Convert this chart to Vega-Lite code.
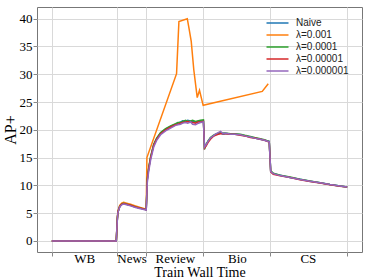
{
  "$schema": "https://vega.github.io/schema/vega-lite/v6.json",
  "autosize": {"type": "none"},
  "width": 325,
  "height": 245,
  "padding": {"left": 37, "top": 7, "right": 12, "bottom": 28},
  "background": "white",
  "config": {
    "view": {"stroke": "#777777", "strokeWidth": 1},
    "axis": {"domain": false, "gridColor": "#d9d9d9", "gridWidth": 1, "tickColor": "#888888", "tickSize": 4, "labelFont": "Liberation Serif", "labelFontSize": 13, "labelColor": "#000000", "titleFont": "Liberation Serif", "titleColor": "#000000", "titleFontWeight": "normal"}
  },
  "data": {"values": [
    {"t": 0, "a": 0, "b": 0, "c": 0, "d": 0, "e": 0},
    {"t": 65.5, "a": 0, "b": 0, "c": 0, "d": 0, "e": 0},
    {"t": 66.6, "a": 4.0, "b": 4.2, "c": 4.0, "d": 4.0, "e": 3.9},
    {"t": 67.2, "a": 5.2, "b": 5.4, "c": 5.2, "d": 5.2, "e": 5.1},
    {"t": 69, "a": 6.2, "b": 6.4, "c": 6.2, "d": 6.2, "e": 6.1},
    {"t": 71, "a": 6.6, "b": 6.8, "c": 6.6, "d": 6.6, "e": 6.5},
    {"t": 73, "a": 6.7, "b": 6.95, "c": 6.75, "d": 6.7, "e": 6.65},
    {"t": 76, "a": 6.6, "b": 6.8, "c": 6.6, "d": 6.6, "e": 6.5},
    {"t": 80, "a": 6.4, "b": 6.6, "c": 6.4, "d": 6.4, "e": 6.3},
    {"t": 85, "a": 6.1, "b": 6.3, "c": 6.1, "d": 6.1, "e": 6.0},
    {"t": 90, "a": 5.9, "b": 6.0, "c": 5.9, "d": 5.9, "e": 5.8},
    {"t": 95.9, "a": 5.6, "b": 5.7, "c": 5.6, "d": 5.6, "e": 5.55},
    {"t": 96.6, "b": 15.0},
    {"t": 97, "a": 11.0, "c": 11.2, "d": 11.0, "e": 10.5},
    {"t": 98.4, "a": 13.0, "c": 13.2, "d": 13.0, "e": 12.5},
    {"t": 100.4, "a": 15.0, "c": 15.2, "d": 15.0, "e": 14.6},
    {"t": 103.5, "a": 17.3, "c": 17.4, "d": 17.2, "e": 16.9},
    {"t": 106.5, "a": 18.4, "c": 18.5, "d": 18.3, "e": 18.1},
    {"t": 110.5, "a": 19.4, "c": 19.5, "d": 19.3, "e": 19.1},
    {"t": 115.6, "a": 20.1, "c": 20.2, "d": 20.0, "e": 19.8},
    {"t": 120.7, "a": 20.6, "c": 20.7, "d": 20.5, "e": 20.3},
    {"t": 125.7, "a": 21.0, "c": 21.1, "d": 20.9, "e": 20.8},
    {"t": 126.7, "b": 30.1},
    {"t": 128, "a": 21.2, "c": 21.3, "d": 21.0, "e": 20.9},
    {"t": 129.1, "b": 39.5},
    {"t": 130.8, "a": 21.4, "c": 21.3, "d": 21.2, "e": 21.0},
    {"t": 133, "a": 21.6, "c": 21.5, "d": 21.3, "e": 21.2},
    {"t": 135.9, "a": 21.5, "c": 21.7, "d": 21.4, "e": 21.3},
    {"t": 137.6, "b": 40.0},
    {"t": 138, "a": 21.7, "c": 21.5, "d": 21.5, "e": 21.2},
    {"t": 139.4, "b": 38.2},
    {"t": 140.9, "a": 21.6, "c": 21.6, "d": 21.4, "e": 21.4},
    {"t": 141.6, "b": 35.9},
    {"t": 143, "a": 21.5, "c": 21.7, "d": 21.3, "e": 21.0},
    {"t": 144.2, "b": 30.8},
    {"t": 146, "a": 21.4, "c": 21.5, "d": 21.2, "e": 20.9},
    {"t": 147.7, "b": 25.8},
    {"t": 148, "a": 21.5, "c": 21.6, "d": 21.4, "e": 21.1},
    {"t": 150, "b": 27.1},
    {"t": 151, "a": 21.6, "c": 21.7, "d": 21.4, "e": 21.3},
    {"t": 153.7, "b": 24.4},
    {"t": 154, "a": 21.6, "c": 21.8, "d": 21.5, "e": 21.4},
    {"t": 155.1, "a": 16.8, "c": 16.5, "d": 16.7, "e": 16.9},
    {"t": 157.1, "a": 17.4, "c": 17.5, "d": 17.2, "e": 17.4},
    {"t": 159, "a": 18.0, "c": 18.1, "d": 17.8, "e": 18.0},
    {"t": 161.1, "a": 18.5, "c": 18.6, "d": 18.3, "e": 18.5},
    {"t": 164, "a": 18.9, "c": 19.0, "d": 18.8, "e": 18.9},
    {"t": 166.2, "a": 19.1, "c": 19.2, "d": 19.0, "e": 19.2},
    {"t": 169, "a": 19.3, "c": 19.4, "d": 19.2, "e": 19.5},
    {"t": 171.3, "a": 19.4, "c": 19.5, "d": 19.3, "e": 19.7},
    {"t": 174, "a": 19.2, "c": 19.4, "d": 19.3, "e": 19.3},
    {"t": 176.3, "a": 19.3, "c": 19.4, "d": 19.3, "e": 19.4},
    {"t": 181.4, "a": 19.3, "c": 19.3, "d": 19.2, "e": 19.2},
    {"t": 186, "a": 19.2, "c": 19.3, "d": 19.2, "e": 19.2},
    {"t": 191.5, "a": 19.1, "c": 19.2, "d": 19.0, "e": 19.1},
    {"t": 196, "a": 18.9, "c": 19.0, "d": 18.9, "e": 18.9},
    {"t": 201.6, "a": 18.7, "c": 18.8, "d": 18.6, "e": 18.7},
    {"t": 206, "a": 18.5, "c": 18.6, "d": 18.5, "e": 18.5},
    {"t": 211.7, "a": 18.3, "c": 18.4, "d": 18.3, "e": 18.3},
    {"t": 213.7, "b": 26.9},
    {"t": 216, "a": 18.1, "c": 18.2, "d": 18.1, "e": 18.1},
    {"t": 219.8, "b": 28.3},
    {"t": 220.8, "a": 17.9, "c": 17.9, "d": 17.8, "e": 17.85},
    {"t": 222.3, "a": 12.5, "c": 12.6, "d": 12.4, "e": 12.5},
    {"t": 224.9, "a": 12.1, "c": 12.2, "d": 12.0, "e": 12.1},
    {"t": 231.9, "a": 11.8, "c": 11.8, "d": 11.7, "e": 11.75},
    {"t": 242, "a": 11.4, "c": 11.5, "d": 11.4, "e": 11.4},
    {"t": 252.1, "a": 11.1, "c": 11.1, "d": 11.0, "e": 11.05},
    {"t": 262.2, "a": 10.75, "c": 10.8, "d": 10.7, "e": 10.75},
    {"t": 272.4, "a": 10.45, "c": 10.45, "d": 10.4, "e": 10.45},
    {"t": 282.5, "a": 10.15, "c": 10.15, "d": 10.1, "e": 10.15},
    {"t": 292.6, "a": 9.9, "c": 9.9, "d": 9.85, "e": 9.9},
    {"t": 300, "a": 9.7, "c": 9.7, "d": 9.7, "e": 9.7}
  ]},
  "transform": [
    {"fold": ["a", "b", "c", "d", "e"], "as": ["k", "y"]},
    {"filter": "isValid(datum.y)"},
    {"lookup": "k", "from": {"data": {"values": [
      {"k": "a", "name": "Naive"},
      {"k": "b", "name": "λ=0.001"},
      {"k": "c", "name": "λ=0.0001"},
      {"k": "d", "name": "λ=0.00001"},
      {"k": "e", "name": "λ=0.000001"}
    ]}, "key": "k", "fields": ["name"]}}
  ],
  "mark": {"type": "line", "strokeWidth": 1.5},
  "encoding": {
    "x": {
      "field": "t", "type": "quantitative",
      "scale": {"domain": [-15, 315], "nice": false, "zero": false},
      "axis": {
        "values": [0, 33, 66, 81, 96, 125, 154, 188, 222, 260, 300],
        "labelExpr": "datum.value == 33 ? 'WB' : datum.value == 81 ? 'News' : datum.value == 125 ? 'Review' : datum.value == 188 ? 'Bio' : datum.value == 260 ? 'CS' : ''",
        "gridOpacity": {"condition": {"test": "indexof([0, 66, 96, 154, 222, 300], datum.value) >= 0", "value": 1}, "value": 0},
        "tickOpacity": {"condition": {"test": "indexof([0, 66, 96, 154, 222, 300], datum.value) >= 0", "value": 1}, "value": 0},
        "labelPadding": -3.5,
        "labelFlush": false,
        "labelOverlap": false,
        "title": "Train Wall Time",
        "titleFontSize": 14,
        "titlePadding": 0
      }
    },
    "y": {
      "field": "y", "type": "quantitative",
      "scale": {"domain": [-2.0, 42.1], "nice": false, "zero": false},
      "axis": {
        "values": [0, 5, 10, 15, 20, 25, 30, 35, 40],
        "labelPadding": 1,
        "title": "AP+",
        "titleFontSize": 16,
        "titlePadding": 1
      }
    },
    "color": {
      "field": "name", "type": "nominal",
      "scale": {
        "domain": ["Naive", "λ=0.001", "λ=0.0001", "λ=0.00001", "λ=0.000001"],
        "range": ["#1f77b4", "#ff7f0e", "#2ca02c", "#d62728", "#9467bd"]
      },
      "legend": {
        "title": null,
        "orient": "none",
        "legendX": 234,
        "legendY": 9.5,
        "padding": 0,
        "symbolType": "M-2,0H2",
        "symbolSize": 121,
        "symbolStrokeWidth": 1.5,
        "labelFont": "Liberation Sans",
        "labelFontSize": 10,
        "labelColor": "#222222",
        "labelOffset": 12,
        "labelLimit": 200,
        "rowPadding": -0.7
      }
    }
  }
}
